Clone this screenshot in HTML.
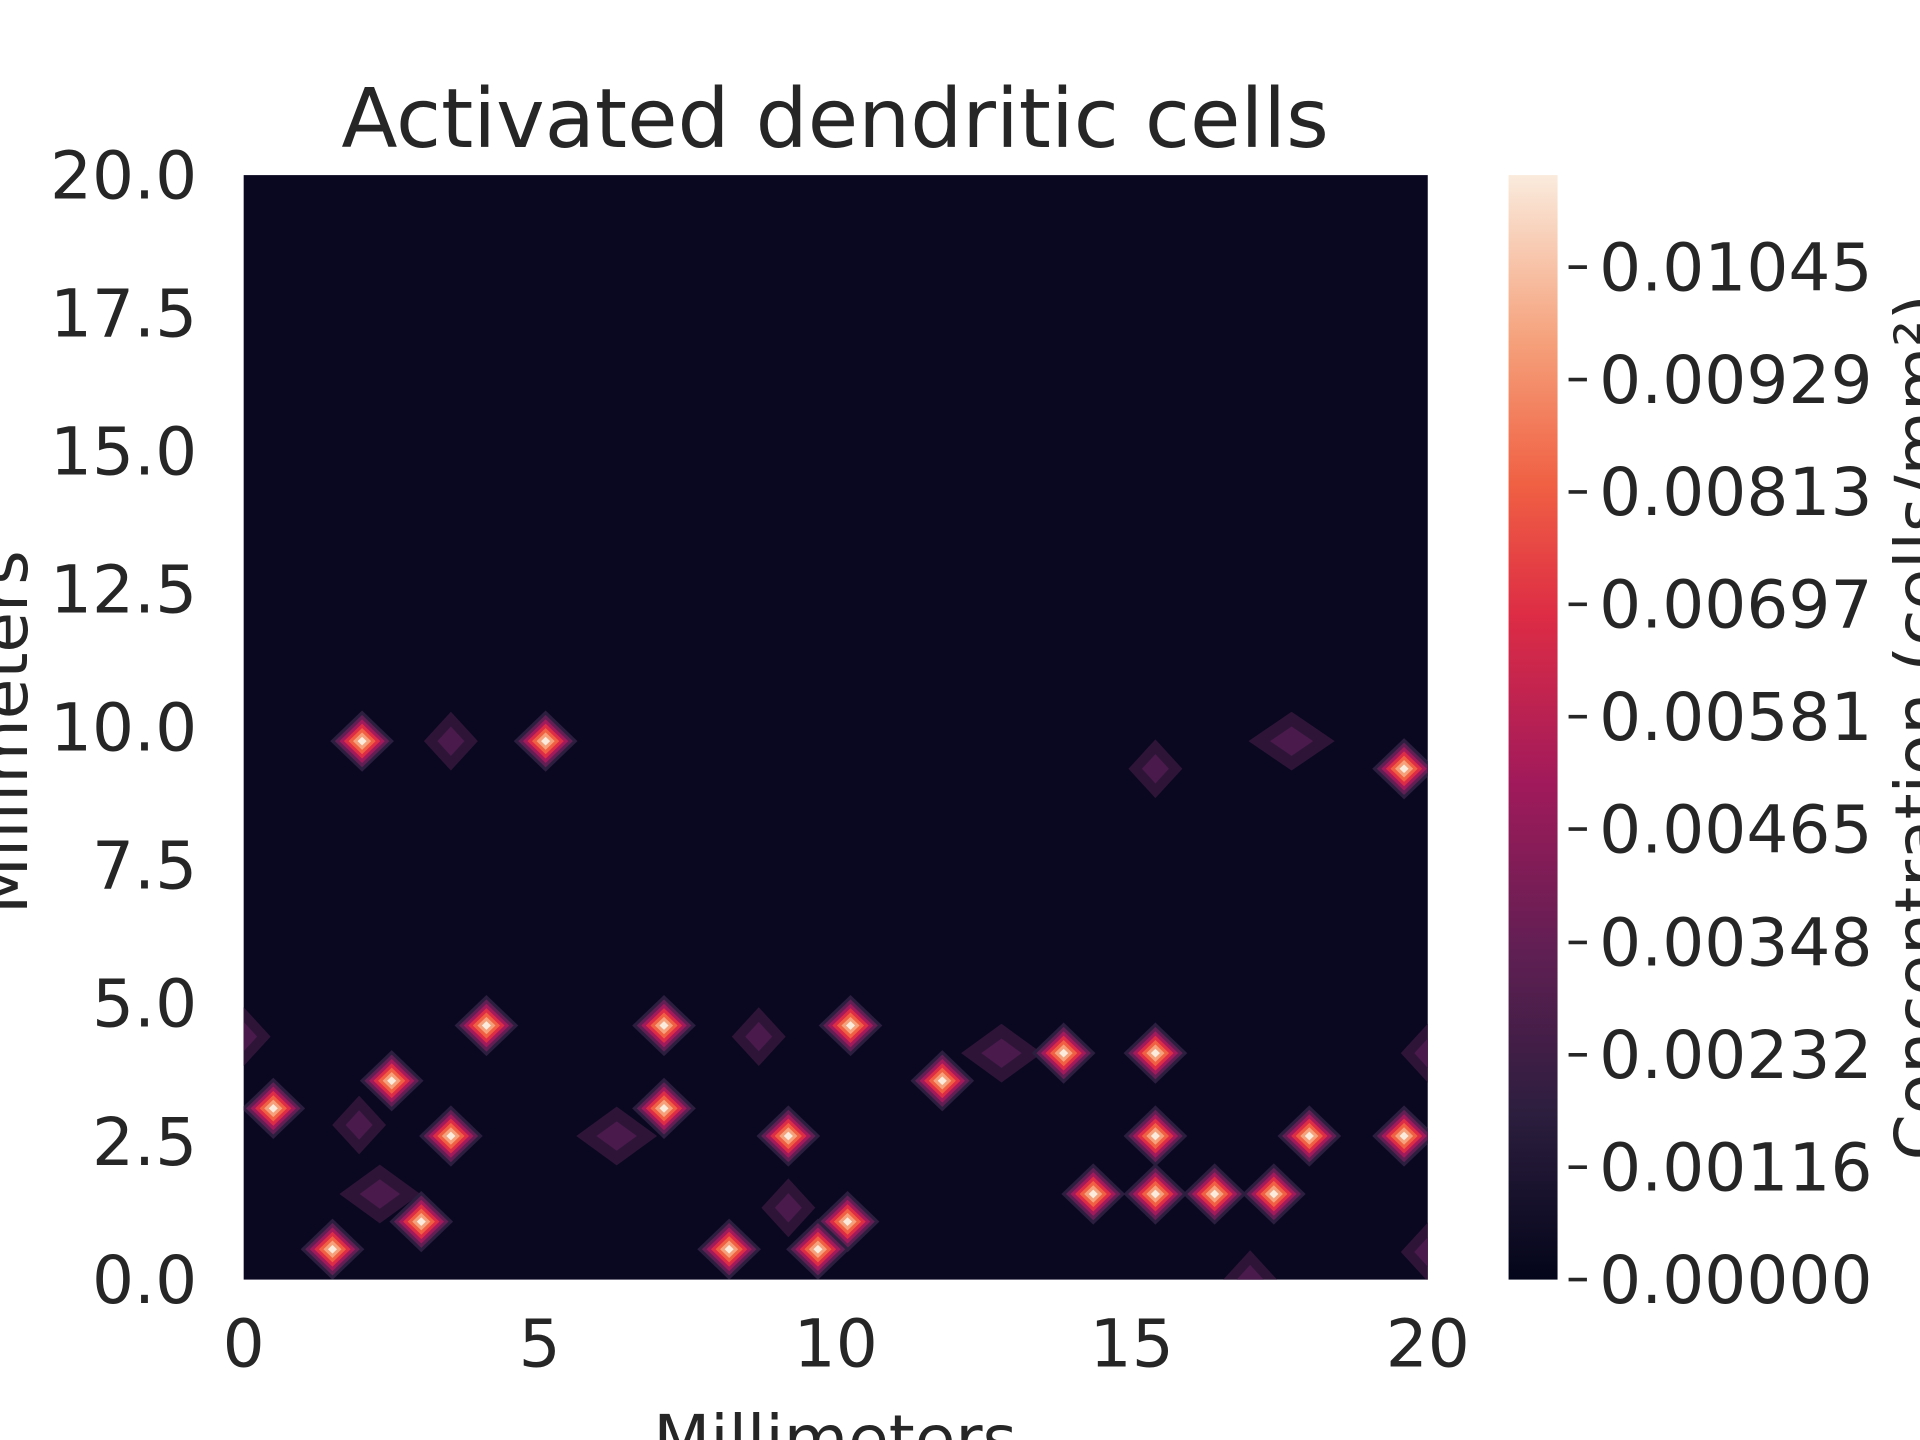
<!DOCTYPE html>
<html><head><meta charset="utf-8"><style>
html,body{margin:0;padding:0;background:#fff;}
svg{display:block;font-family:"DejaVu Sans","Liberation Sans",sans-serif;}
</style></head><body>
<svg id="chart" width="1920" height="1440" viewBox="0 0 1568 1176" xmlns="http://www.w3.org/2000/svg">
<defs>
<linearGradient id="rocket" x1="0" y1="1" x2="0" y2="0">
<stop offset="0" stop-color="#03051a"/><stop offset="0.15" stop-color="#2c1e3e"/>
<stop offset="0.3" stop-color="#611f53"/><stop offset="0.45" stop-color="#a11a5b"/>
<stop offset="0.6" stop-color="#dd2c45"/><stop offset="0.72" stop-color="#f06043"/>
<stop offset="0.85" stop-color="#f5a17b"/><stop offset="1" stop-color="#faebdd"/>
</linearGradient>
<clipPath id="plotclip"><rect x="199" y="143" width="967" height="902"/></clipPath>
</defs>
<text x="682" y="120" font-size="67" text-anchor="middle" fill="#262626">Activated dendritic cells</text>
<rect x="199" y="143" width="967" height="902" fill="#0a0821"/>
<g id="spots" clip-path="url(#plotclip)"></g>
<g id="xticks"></g><g id="yticks"></g>
<text x="682" y="1194" font-size="54" text-anchor="middle" fill="#262626">Millimeters</text>
<text x="0" y="0" font-size="54" text-anchor="middle" fill="#262626" transform="translate(22,598) rotate(-90)">Millimeters</text>
<rect x="1232" y="143" width="40" height="902" fill="url(#rocket)"/>
<g id="cbticks"></g>
<text x="0" y="0" font-size="54" text-anchor="middle" fill="#262626" transform="translate(1586,594) rotate(-90)">Concentration (cells/mm²)</text>
</svg>
<script>
const xTicks=[0,5,10,15,20];
const yTicks=[0,2.5,5,7.5,10,12.5,15,17.5,20];
const cbTicks=[0,0.00116,0.00232,0.00348,0.00465,0.00581,0.00697,0.00813,0.00929,0.01045];
const cbMax=0.0114;
const spotX=[2,3.5,5.1,17.7,15.4,19.6,0,4.1,7.1,8.7,10.25,12.8,13.85,15.4,20,2.5,11.8,0.5,7.1,1.95,6.3,3.5,9.2,15.4,18,19.6,14.35,15.4,16.4,17.4,2.3,9.2,3.0,10.2,1.5,8.2,9.7,20,17];
const spotY=[9.75,9.75,9.75,9.75,9.25,9.25,4.4,4.6,4.6,4.4,4.6,4.1,4.1,4.1,4.1,3.6,3.6,3.1,3.1,2.8,2.6,2.6,2.6,2.6,2.6,2.6,1.55,1.55,1.55,1.55,1.55,1.3,1.05,1.05,0.55,0.55,0.55,0.5,0];
const spotPeak=[1,0.3,1,0.35,0.25,1,0.35,1,1,0.4,1,0.4,1,1,0.35,1,1,1,1,0.35,0.4,1,1,1,1,1,1,1,1,1,0.4,0.4,1,1,1,1,1,0.3,0.3];
const spotW=[1,1,1,1.6,1,1,1,1,1,1,1,1.5,1,1,1,1,1,1,1,1,1.5,1,1,1,1,1,1,1,1,1,1.5,1,1,1,1,1,1,1,1];
const NS="http://www.w3.org/2000/svg";
const X0=199,X1=1166,Y0=1045,Y1=143;
const sx=v=>X0+(X1-X0)*v/20, sy=v=>Y0-(Y0-Y1)*v/20, sc=v=>1045-902*v/cbMax;
const cols=["#2c1e3e","#611f53","#a11a5b","#dd2c45","#f06043","#f5a17b","#faebdd"];
const g=document.getElementById('spots');
for(let i=0;i<spotX.length;i++){
  const cx=sx(spotX[i]),cy=sy(spotY[i]);
  const dim=spotPeak[i]<1;
  const n=dim?2:cols.length;
  for(let k=0;k<n;k++){
    const f=1-k/n;const rx=(dim?22:26)*f*spotW[i],ry=(dim?24:25)*f;
    const p=document.createElementNS(NS,'polygon');
    p.setAttribute('points',`${cx-rx},${cy} ${cx},${cy-ry} ${cx+rx},${cy} ${cx},${cy+ry}`);
    p.setAttribute('fill',dim?(k==0?"#2e1538":"#4a1a4c"):cols[k]);
    
    
    g.appendChild(p);
  }
}
function txt(parent,x,y,s,anchor,size){const t=document.createElementNS(NS,'text');t.setAttribute('x',x);t.setAttribute('y',y);t.setAttribute('text-anchor',anchor);t.setAttribute('font-size',size);t.setAttribute('fill','#262626');t.textContent=s;parent.appendChild(t);return t;}
const xg=document.getElementById('xticks');
xTicks.forEach(v=>{const t=txt(xg,sx(v),1116,String(v),'middle',54);

});
const yg=document.getElementById('yticks');
yTicks.forEach(v=>{const t=txt(yg,161,sy(v)+19,v.toFixed(1),'end',54);

});
const cg=document.getElementById('cbticks');
cbTicks.forEach(v=>{const y=sc(v);
const l=document.createElementNS(NS,'line');l.setAttribute('x1',1281);l.setAttribute('x2',1296);l.setAttribute('y1',y);l.setAttribute('y2',y);l.setAttribute('stroke','#262626');l.setAttribute('stroke-width','3');


cg.appendChild(l);
const t=txt(cg,1306,y+19,v.toFixed(5),'start',54);

});
</script>
</body></html>
